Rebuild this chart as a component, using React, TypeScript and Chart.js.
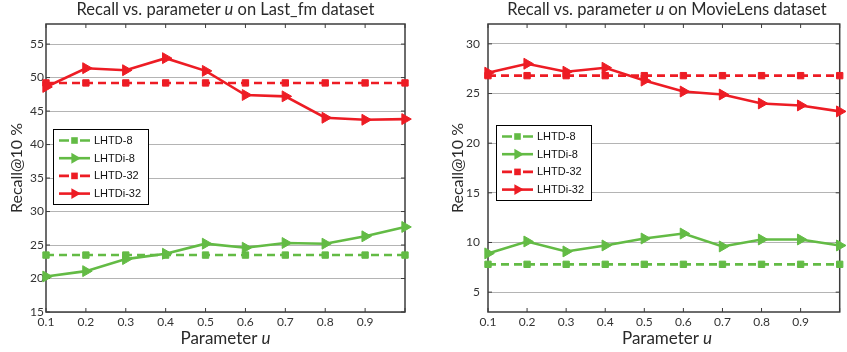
import React, { useEffect, useRef } from 'react';
import { Chart, registerables } from 'chart.js';

Chart.register(...registerables);

// ---------- data ----------
const paramU = [0.1, 0.2, 0.3, 0.4, 0.5, 0.6, 0.7, 0.8, 0.9, 1.0];
const seriesNames = ['LHTD-8', 'LHTDi-8', 'LHTD-32', 'LHTDi-32'];

const lastfmLHTD8 = [23.5, 23.5, 23.5, 23.5, 23.5, 23.5, 23.5, 23.5, 23.5, 23.5];
const lastfmLHTDi8 = [20.3, 21.1, 22.9, 23.7, 25.2, 24.6, 25.3, 25.2, 26.3, 27.7];
const lastfmLHTD32 = [49.2, 49.2, 49.2, 49.2, 49.2, 49.2, 49.2, 49.2, 49.2, 49.2];
const lastfmLHTDi32 = [48.6, 51.4, 51.1, 52.9, 51.0, 47.4, 47.2, 44.0, 43.7, 43.8];

const movieLHTD8 = [7.8, 7.8, 7.8, 7.8, 7.8, 7.8, 7.8, 7.8, 7.8, 7.8];
const movieLHTDi8 = [8.9, 10.1, 9.1, 9.7, 10.4, 10.9, 9.6, 10.3, 10.3, 9.7];
const movieLHTD32 = [26.8, 26.8, 26.8, 26.8, 26.8, 26.8, 26.8, 26.8, 26.8, 26.8];
const movieLHTDi32 = [27.1, 28.0, 27.2, 27.6, 26.3, 25.2, 24.9, 24.0, 23.8, 23.2];

const lastfmYRange = [15, 58];
const movieYRange = [3, 32];

// ---------- styles ----------
const GREEN = '#63bb45';
const RED = '#ed1c24';
const COLORS = [GREEN, GREEN, RED, RED];
const DASHED = [true, false, true, false];
const FONT = 'Lato, "Open Sans", sans-serif';

function makeDatasets(series: number[][]) {
  return series.map((vals, i) => {
    const dashed = DASHED[i];
    return {
      label: seriesNames[i],
      data: paramU.map((x, k) => ({ x, y: vals[k] })),
      borderColor: COLORS[i],
      backgroundColor: COLORS[i],
      borderWidth: 2.6,
      borderDash: dashed ? [8, 5] : [],
      pointStyle: dashed ? 'rect' : 'triangle',
      pointRotation: dashed ? 0 : 90,
      pointRadius: dashed ? 4.5 : 6.3,
      pointBackgroundColor: COLORS[i],
      pointBorderColor: COLORS[i],
      pointBorderWidth: 1,
      tension: 0,
      clip: false,
      order: 4 - i,
    };
  });
}

const boxPlugin = {
  id: 'matlabBox',
  beforeDatasetsDraw(chart: any) {
    const { ctx, chartArea: a, scales } = chart;
    ctx.save();
    ctx.strokeStyle = '#3c3c3c';
    ctx.lineWidth = 1.5;
    ctx.setLineDash([]);
    ctx.strokeRect(a.left, a.top, a.right - a.left, a.bottom - a.top);
    ctx.lineWidth = 1;
    const tl = 4;
    scales.x.ticks.forEach((t: any) => {
      const px = scales.x.getPixelForValue(t.value);
      ctx.beginPath();
      ctx.moveTo(px, a.bottom);
      ctx.lineTo(px, a.bottom - tl);
      ctx.moveTo(px, a.top);
      ctx.lineTo(px, a.top + tl);
      ctx.stroke();
    });
    scales.y.ticks.forEach((t: any) => {
      const py = scales.y.getPixelForValue(t.value);
      ctx.beginPath();
      ctx.moveTo(a.left, py);
      ctx.lineTo(a.left + tl, py);
      ctx.moveTo(a.right, py);
      ctx.lineTo(a.right - tl, py);
      ctx.stroke();
    });
    ctx.restore();
  },
};

const legendPlugin = {
  id: 'lineLegend',
  afterDraw(chart: any, _args: any, opts: any) {
    const { ctx, chartArea: a } = chart;
    const bx = a.left + opts.dx;
    const by = a.top + opts.dy;
    const bw = 95;
    const bh = 75;
    ctx.save();
    ctx.fillStyle = '#ffffff';
    ctx.fillRect(bx, by, bw, bh);
    ctx.strokeStyle = '#000000';
    ctx.lineWidth = 1;
    ctx.setLineDash([]);
    ctx.strokeRect(bx + 0.5, by + 0.5, bw, bh);
    seriesNames.forEach((name, i) => {
      const cy = by + 11.5 + i * 17.7;
      const x0 = bx + 6;
      const x1 = bx + 37;
      const mx = (x0 + x1) / 2;
      ctx.strokeStyle = COLORS[i];
      ctx.fillStyle = COLORS[i];
      ctx.lineWidth = 2.6;
      ctx.beginPath();
      if (DASHED[i]) {
        ctx.moveTo(x0, cy);
        ctx.lineTo(x0 + 10, cy);
        ctx.moveTo(x1 - 10, cy);
        ctx.lineTo(x1, cy);
      } else {
        ctx.moveTo(x0, cy);
        ctx.lineTo(x1, cy);
      }
      ctx.stroke();
      ctx.beginPath();
      if (DASHED[i]) {
        ctx.rect(mx - 3.3, cy - 3.3, 6.6, 6.6);
      } else {
        const r = 6.3;
        ctx.moveTo(mx + r, cy);
        ctx.lineTo(mx - r / 2, cy - r * 0.866);
        ctx.lineTo(mx - r / 2, cy + r * 0.866);
        ctx.closePath();
      }
      ctx.fill();
      ctx.fillStyle = '#111';
      ctx.font = '11px "Liberation Sans", Arial, sans-serif';
      ctx.textBaseline = 'middle';
      ctx.textAlign = 'left';
      ctx.fillText(name, bx + 41, cy + 0.5);
    });
    ctx.restore();
  },
};

interface PanelProps {
  series: number[][];
  yRange: number[];
  yAxisWidth: number;
  yTickPad: number;
  yTitlePad: number;
  rightPad: number;
  width: number;
  legendDx: number;
  legendDy: number;
}

function Panel(p: PanelProps) {
  const ref = useRef<HTMLCanvasElement>(null);
  useEffect(() => {
    const chart = new Chart(ref.current as HTMLCanvasElement, {
      type: 'line',
      data: { datasets: makeDatasets(p.series) as any },
      plugins: [boxPlugin, legendPlugin],
      options: {
        responsive: false,
        animation: false,
        devicePixelRatio: 1,
        layout: { padding: { top: 24, right: p.rightPad, bottom: 0, left: 0 } },
        plugins: {
          legend: { display: false },
          tooltip: { enabled: false },
          title: { display: false },
          lineLegend: { dx: p.legendDx, dy: p.legendDy },
        } as any,
        scales: {
          x: {
            type: 'linear',
            min: 0.1,
            max: 1.0,
            ticks: {
              stepSize: 0.1,
              autoSkip: false,
              maxRotation: 0,
              padding: 3,
              color: '#333',
              font: { family: FONT, size: 12 },
              callback: (v: any) => (Number(v) > 0.95 ? '' : Number(v).toFixed(1)),
            },
            grid: { display: false, drawTicks: false },
            border: { display: false },
            afterFit: (s: any) => {
              s.height = 40;
            },
          },
          y: {
            type: 'linear',
            min: p.yRange[0],
            max: p.yRange[1],
            ticks: {
              stepSize: 5,
              includeBounds: false,
              padding: p.yTickPad,
              color: '#333',
              font: { family: FONT, size: 12 },
            },
            grid: { color: '#b4b4b4', lineWidth: 1, drawTicks: false },
            border: { display: false },
            title: {
              display: true,
              text: 'Recall@10 %',
              color: '#2a2a2a',
              font: { family: FONT, size: 16 },
              padding: { top: p.yTitlePad, bottom: 0 },
            },
            afterFit: (s: any) => {
              s.width = p.yAxisWidth;
            },
          },
        },
      } as any,
    });
    return () => chart.destroy();
  }, []);
  return (
    <canvas
      ref={ref}
      width={p.width}
      height={352}
      style={{ display: 'block', width: p.width, height: 352 }}
    />
  );
}

const titleStyle: React.CSSProperties = {
  position: 'absolute',
  top: 0,
  height: 18,
  lineHeight: '18px',
  textAlign: 'center',
  fontFamily: FONT,
  fontSize: 16.5,
  color: '#2a2a2a',
  whiteSpace: 'nowrap',
};

const xTitleStyle: React.CSSProperties = {
  position: 'absolute',
  top: 329,
  height: 18,
  lineHeight: '18px',
  textAlign: 'center',
  fontFamily: FONT,
  fontSize: 17,
  color: '#2a2a2a',
  whiteSpace: 'nowrap',
};

export default function App() {
  return (
    <div
      style={{
        position: 'absolute',
        left: 0,
        top: 0,
        width: 847,
        height: 352,
        background: '#fff',
        overflow: 'hidden',
      }}
    >
      <div style={{ position: 'absolute', left: 0, top: 0, width: 424, height: 352 }}>
        <Panel
          series={[lastfmLHTD8, lastfmLHTDi8, lastfmLHTD32, lastfmLHTDi32]}
          yRange={lastfmYRange}
          yAxisWidth={46}
          yTickPad={2}
          yTitlePad={7}
          rightPad={19}
          width={424}
          legendDx={7}
          legendDy={105}
        />
      </div>
      <div style={{ position: 'absolute', left: 424, top: 0, width: 423, height: 352 }}>
        <Panel
          series={[movieLHTD8, movieLHTDi8, movieLHTD32, movieLHTDi32]}
          yRange={movieYRange}
          yAxisWidth={64}
          yTickPad={8}
          yTitlePad={24}
          rightPad={1}
          width={423}
          legendDx={8}
          legendDy={101}
        />
      </div>
      <div style={{ ...titleStyle, left: 46, width: 359 }}>
        Recall vs. parameter <i>u</i> on Last_fm dataset
      </div>
      <div style={{ ...titleStyle, left: 488, width: 358 }}>
        Recall vs. parameter <i>u</i> on MovieLens dataset
      </div>
      <div style={{ ...xTitleStyle, left: 46, width: 359 }}>
        Parameter <i>u</i>
      </div>
      <div style={{ ...xTitleStyle, left: 488, width: 358 }}>
        Parameter <i>u</i>
      </div>
    </div>
  );
}
